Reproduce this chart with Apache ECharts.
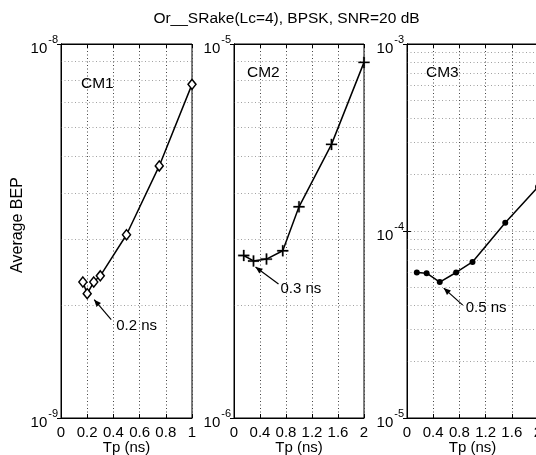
<!DOCTYPE html>
<html>
<head>
<meta charset="utf-8">
<script src="https://cdn.jsdelivr.net/npm/echarts@6/dist/echarts.min.js"></script>
<style>
html,body{margin:0;padding:0;background:#fff;}
#c{width:536px;height:455px;}
</style>
</head>
<body>
<div id="c"></div>
<script>
// ---- data ----
const titleText = 'Or__SRake(Lc=4), BPSK, SNR=20 dB';
const panelNames = ['CM1', 'CM2', 'CM3'];
const tp1 = [0.167, 0.2, 0.25, 0.3, 0.5, 0.75, 1.0];
const bep1 = [2.31e-9, 2.15e-9, 2.31e-9, 2.40e-9, 3.09e-9, 4.72e-9, 7.80e-9];
const tp2 = [0.15, 0.3, 0.5, 0.75, 1.0, 1.5, 2.0];
const bep2 = [2.72e-6, 2.63e-6, 2.66e-6, 2.80e-6, 3.67e-6, 5.39e-6, 8.93e-6];
const tp3 = [0.15, 0.3, 0.5, 0.75, 1.0, 1.5, 2.0];
const bep3 = [6.0e-5, 5.95e-5, 5.33e-5, 6.0e-5, 6.83e-5, 1.108e-4, 1.72e-4];
const xMax = [1, 2, 2];
const xStep = [0.2, 0.4, 0.4];
const yMin = [1e-9, 1e-6, 1e-5];
const yMax = [1e-8, 1e-5, 1e-3];
const optimumTp = [0.2, 0.3, 0.5];
const optimumBep = [2.15e-9, 2.63e-6, 5.33e-5];
const optimumLabels = ['0.2 ns', '0.3 ns', '0.5 ns'];
const xName = 'Tp (ns)';
const yName = 'Average BEP';

// ---- layout ----
const FONT = '"Liberation Sans", Arial, Helvetica, sans-serif';
const grids = [
  {left: 61, top: 44, width: 131, height: 374},
  {left: 234, top: 44, width: 130, height: 374},
  {left: 407, top: 44, width: 131, height: 374}
];
const nameOffsets = [[20, 40], [13, 29], [19, 29]];
const annot = [
  {tip: [7, 6], tail: [24, 26], text: [29, 32]},
  {tip: [2, 6], tail: [25, 23], text: [27, 28]},
  {tip: [4, 6], tail: [23, 23], text: [26, 26]}
];

const xs = [tp1, tp2, tp3];
const ys = [bep1, bep2, bep3];
const markers = [
  {symbol: 'diamond', size: [8, 10], color: '#fff', border: '#000', bw: 1.5},
  {symbol: 'path://M4.35,0H5.65V4.35H10V5.65H5.65V10H4.35V5.65H0V4.35H4.35Z', size: 11, color: '#000', border: '#000', bw: 0.3},
  {symbol: 'circle', size: 6, color: '#000', border: '#000', bw: 0}
];

function minorGridLines(lo, hi, xm) {
  const out = [];
  const a = Math.round(Math.log10(lo)), b = Math.round(Math.log10(hi));
  for (let d = a; d < b; d++) {
    const vals = [];
    if (d > a) vals.push(Math.pow(10, d));
    for (let k = 2; k <= 9; k++) vals.push(k * Math.pow(10, d));
    vals.forEach(v => out.push({coords: [[0, v], [xm, v]]}));
  }
  return out;
}

const dotted = {type: [1, 2.5], color: '#444', width: 1};

const option = {
  animation: false,
  backgroundColor: '#fff',
  textStyle: {fontFamily: FONT},
  grid: grids.map(g => Object.assign({show: true, borderColor: '#000', borderWidth: 1, backgroundColor: 'transparent', containLabel: false, outerBoundsMode: 'none'}, g)),
  xAxis: [],
  yAxis: [],
  series: [],
  graphic: []
};

for (let i = 0; i < 3; i++) {
  option.xAxis.push({
    type: 'value', gridIndex: i, min: 0, max: xMax[i], interval: xStep[i],
    name: xName, nameLocation: 'middle', nameGap: 22, nameMoveOverlap: false,
    nameTextStyle: {fontSize: 15, color: '#000', fontFamily: FONT},
    axisLine: {show: true, onZero: false, lineStyle: {color: '#000', width: 1}},
    axisTick: {show: true, inside: true, length: 4, lineStyle: {color: '#000'}},
    axisLabel: {fontSize: 15, color: '#000', margin: 7, fontFamily: FONT, showMaxLabel: true, showMinLabel: true},
    splitLine: {show: true, lineStyle: dotted}
  });
  option.yAxis.push({
    type: 'log', logBase: 10, gridIndex: i, min: yMin[i], max: yMax[i],
    axisLine: {show: true, lineStyle: {color: '#000', width: 1}},
    axisTick: {show: true, inside: true, length: 4, lineStyle: {color: '#000'}},
    axisLabel: {
      margin: 3, color: '#000', fontFamily: FONT, padding: [2, 0, 0, 0],
      formatter: v => '{b|10}{s|' + Math.round(Math.log10(v)) + '}',
      rich: {
        b: {fontSize: 15, color: '#000', fontFamily: FONT, lineHeight: 22, verticalAlign: 'bottom'},
        s: {fontSize: 11, color: '#000', fontFamily: FONT, lineHeight: 12, verticalAlign: 'top', padding: [0, 0, 0, 1]}
      }
    },
    splitLine: {show: false}
  });
}
for (let i = 0; i < 3; i++) {
  option.xAxis.push({
    type: 'value', gridIndex: i, position: 'top', min: 0, max: xMax[i], interval: xStep[i],
    axisLine: {show: true, lineStyle: {color: '#000'}},
    axisTick: {show: true, inside: true, length: 4, lineStyle: {color: '#000'}},
    axisLabel: {show: false}, splitLine: {show: false}
  });
  option.yAxis.push({
    type: 'log', logBase: 10, gridIndex: i, position: 'right', min: yMin[i], max: yMax[i],
    axisLine: {show: true, lineStyle: {color: '#000'}},
    axisTick: {show: true, inside: true, length: 4, lineStyle: {color: '#000'}},
    axisLabel: {show: false}, splitLine: {show: false}
  });
}

for (let i = 0; i < 3; i++) {
  option.series.push({
    type: 'lines', coordinateSystem: 'cartesian2d', xAxisIndex: i, yAxisIndex: i,
    silent: true, z: 1, lineStyle: dotted, symbol: 'none',
    data: minorGridLines(yMin[i], yMax[i], xMax[i])
  });
}
for (let i = 0; i < 3; i++) {
  const m = markers[i];
  option.series.push({
    type: 'line', xAxisIndex: i, yAxisIndex: i,
    data: xs[i].map((x, j) => [x, ys[i][j]]),
    symbol: m.symbol, symbolSize: m.size, showAllSymbol: true,
    lineStyle: {color: '#000', width: 1.5},
    itemStyle: {color: m.color, borderColor: m.border, borderWidth: m.bw, opacity: 1},
    clip: false, z: 5
  });
}

const chart = echarts.init(document.getElementById('c'), null, {renderer: 'canvas'});
chart.setOption(option);

// annotations positioned through the axes
const gfx = [];
gfx.push({type: 'text', x: 286.5, y: 19, style: {text: titleText, font: '15.5px ' + FONT, fill: '#000', textAlign: 'center', textVerticalAlign: 'middle'}});
gfx.push({type: 'text', x: 18, y: 225, rotation: Math.PI / 2, style: {text: yName, font: '16px ' + FONT, fill: '#000', textAlign: 'center', textVerticalAlign: 'middle'}});
for (let i = 0; i < 3; i++) {
  const g = grids[i];
  gfx.push({type: 'text', x: g.left + nameOffsets[i][0], y: g.top + nameOffsets[i][1], style: {text: panelNames[i], font: '15.5px ' + FONT, fill: '#000', textAlign: 'left', textVerticalAlign: 'middle'}});
  const p = chart.convertToPixel({xAxisIndex: i, yAxisIndex: i}, [optimumTp[i], optimumBep[i]]);
  const a = annot[i];
  const tip = [p[0] + a.tip[0], p[1] + a.tip[1]];
  const tail = [p[0] + a.tail[0], p[1] + a.tail[1]];
  gfx.push({type: 'line', shape: {x1: tail[0], y1: tail[1], x2: tip[0], y2: tip[1]}, style: {stroke: '#000', lineWidth: 1.2}});
  const dx = tip[0] - tail[0], dy = tip[1] - tail[1];
  const L = Math.hypot(dx, dy), ux = dx / L, uy = dy / L;
  const hl = 7, hw = 3;
  const bx = tip[0] - ux * hl, by = tip[1] - uy * hl;
  gfx.push({type: 'polygon', shape: {points: [tip, [bx - uy * hw, by + ux * hw], [bx + uy * hw, by - ux * hw]]}, style: {fill: '#000'}});
  gfx.push({type: 'text', x: p[0] + a.text[0], y: p[1] + a.text[1], style: {text: optimumLabels[i], font: '15px ' + FONT, fill: '#000', textAlign: 'left', textVerticalAlign: 'middle'}});
}
chart.setOption({graphic: gfx});
</script>
</body>
</html>
